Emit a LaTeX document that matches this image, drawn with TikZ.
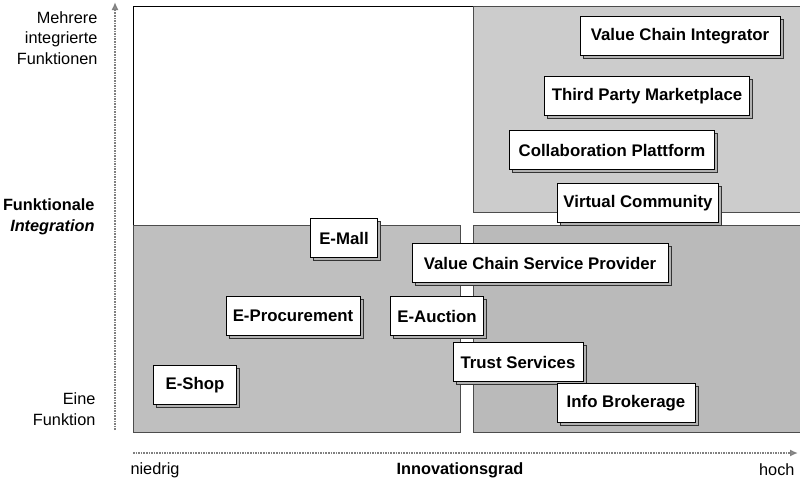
\documentclass[tikz,border=0pt]{standalone}
\usepackage{fontspec}
\setmainfont{Liberation Sans}
\usetikzlibrary{shadows,arrows.meta}

\begin{document}
\begin{tikzpicture}[x=1pt,y=-1pt,
    feld/.style={fill=black!20,draw=black!70,line width=.8pt},
    modell/.style={draw=black,line width=1pt,fill=white,inner sep=0pt,
      minimum height=39pt,font=\bfseries\fontsize{16.8}{19}\selectfont,
      copy shadow={shadow xshift=3pt,shadow yshift=-3pt,fill=black!30,draw=black!80,line width=.8pt}},
    achse/.style={black!50,densely dotted,line width=1.6pt,-{Latex[open,length=8pt,width=7pt]}},
    beschr/.style={font=\fontsize{16.3}{20.5}\selectfont,align=right,anchor=east}]
  \useasboundingbox (0,0) rectangle (800,480);

  % Quadranten
  \fill[white] (133,6) rectangle (473,225);
  \draw[line width=1pt] (133,225) -- (133,6) -- (473,6);
  \draw[feld] (473,6) rectangle (800,212);
  \draw[feld,fill=black!25] (133,225) rectangle (460,432);
  \draw[feld,fill=black!27] (473,225) rectangle (800,432);

  % Achsen
  \draw[achse] (115,430) -- (115,2);
  \draw[achse] (133,453) -- (798,453);

  \node[beschr] (oben) at (101,38) {Mehrere\\integrierte\\Funktionen};
  \node[beschr,font=\bfseries\fontsize{16.3}{20.5}\selectfont] (mitte) at (98,217)
    {Funktionale\\\textit{Integration}};
  \node[beschr] (unten) at (99,409) {Eine\\Funktion};
  \node[anchor=west,font=\fontsize{16.3}{18}\selectfont] (niedrig) at (127,470) {niedrig};
  \node[font=\bfseries\fontsize{16.3}{18}\selectfont] (grad) at (460,470) {Innovationsgrad};
  \node[anchor=east,font=\fontsize{16.3}{18}\selectfont] (hoch) at (798,470) {hoch};

  % Geschaeftsmodelle
  \node[modell,minimum width=200pt] (vci) at (680,36) {Value Chain Integrator};
  \node[modell,minimum width=205pt] (tpm) at (647,96) {Third Party Marketplace};
  \node[modell,minimum width=205pt] (cp) at (612,150) {Collaboration Plattform};
  \node[modell,minimum width=161pt] (vc) at (638,203) {Virtual Community};
  \node[modell,minimum width=67pt] (mall) at (344,238) {E-Mall};
  \node[modell,minimum width=256pt] (vcsp) at (540,263) {Value Chain Service Provider};
  \node[modell,minimum width=134pt] (proc) at (293,316) {E-Procurement};
  \node[modell,minimum width=93pt] (auct) at (437,316) {E-Auction};
  \node[modell,minimum width=130pt] (trust) at (518,362) {Trust Services};
  \node[modell,minimum width=83pt] (shop) at (195,385) {E-Shop};
  \node[modell,minimum width=138pt] (info) at (626,403) {Info Brokerage};
\end{tikzpicture}
\end{document}
